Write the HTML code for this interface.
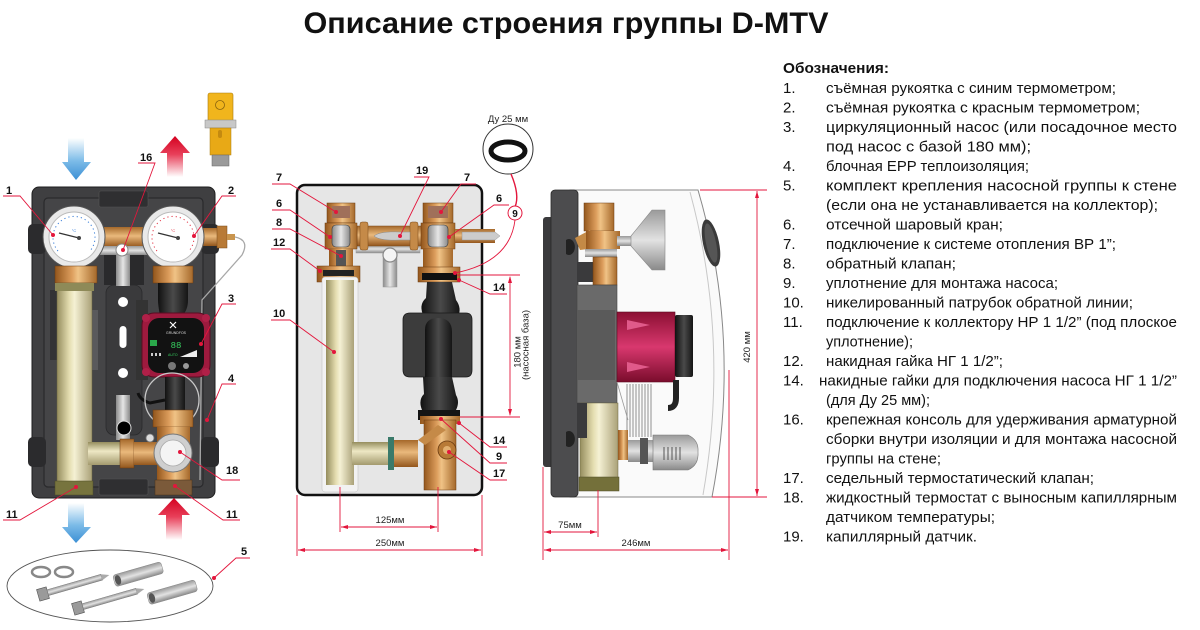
<!DOCTYPE html>
<html><head><meta charset="utf-8"><style>
html,body{margin:0;padding:0;background:#fff;}
svg{display:block;}
.lb{font-family:"Liberation Sans",sans-serif;font-weight:bold;font-size:11px;fill:#111;}
.dm{font-family:"Liberation Sans",sans-serif;font-size:9.5px;fill:#222;}
.lg{font-family:"Liberation Sans","Noto Sans CJK SC",sans-serif;font-size:15px;fill:#111;}
.rl{stroke:#e3163c;stroke-width:0.9;fill:none;}
.rd{fill:#e3163c;}
</style></head><body>
<svg width="1200" height="630" viewBox="0 0 1200 630" xmlns="http://www.w3.org/2000/svg">
<defs>
 <linearGradient id="blueA" x1="0" y1="0" x2="0" y2="1"><stop offset="0" stop-color="#fff"/><stop offset="0.55" stop-color="#7cbbe8"/><stop offset="1" stop-color="#3b8fd4"/></linearGradient>
 <linearGradient id="redA" x1="0" y1="1" x2="0" y2="0"><stop offset="0" stop-color="#fff"/><stop offset="0.55" stop-color="#e8405a"/><stop offset="1" stop-color="#d4001f"/></linearGradient>
 <linearGradient id="nickel" x1="0" x2="1"><stop offset="0" stop-color="#958d5e"/><stop offset="0.35" stop-color="#e4ddb0"/><stop offset="0.5" stop-color="#f5f1d4"/><stop offset="1" stop-color="#aaa178"/></linearGradient>
 <linearGradient id="nickelH" x1="0" y1="0" x2="0" y2="1"><stop offset="0" stop-color="#958d5e"/><stop offset="0.4" stop-color="#eee8c4"/><stop offset="1" stop-color="#a39a6e"/></linearGradient>
 <linearGradient id="brass" x1="0" x2="1"><stop offset="0" stop-color="#93561c"/><stop offset="0.4" stop-color="#dc9d5c"/><stop offset="0.55" stop-color="#f0c386"/><stop offset="1" stop-color="#a5682a"/></linearGradient>
 <linearGradient id="brassH" x1="0" y1="0" x2="0" y2="1"><stop offset="0" stop-color="#a5682a"/><stop offset="0.45" stop-color="#eab97c"/><stop offset="1" stop-color="#93561c"/></linearGradient>
 <linearGradient id="blk" x1="0" x2="1"><stop offset="0" stop-color="#111"/><stop offset="0.5" stop-color="#4a4a4a"/><stop offset="1" stop-color="#151515"/></linearGradient>
 <linearGradient id="redM" x1="0" y1="0" x2="0" y2="1"><stop offset="0" stop-color="#8c0f33"/><stop offset="0.5" stop-color="#d8386e"/><stop offset="1" stop-color="#7a0c2c"/></linearGradient>
 <linearGradient id="gryV" x1="0" y1="0" x2="0" y2="1"><stop offset="0" stop-color="#9a9a9a"/><stop offset="0.5" stop-color="#e2e2e2"/><stop offset="1" stop-color="#8a8a8a"/></linearGradient>
 <linearGradient id="gry" x1="0" x2="1"><stop offset="0" stop-color="#8a8a8a"/><stop offset="0.5" stop-color="#e6e6e6"/><stop offset="1" stop-color="#8a8a8a"/></linearGradient>
</defs>

<!-- TITLE -->
<text x="566" y="33" text-anchor="middle" textLength="525" lengthAdjust="spacingAndGlyphs" style="font-family:'Liberation Sans',sans-serif;font-weight:bold;font-size:30px;fill:#111;">Описание строения группы D-MTV</text>

<!-- ================= LEFT DRAWING ================= -->
<path d="M68,138 H84 V162 H91 L76,180 L62,162 H68 Z" fill="url(#blueA)"/>
<path d="M167,177 V153 H160 L175,136 L190,153 H183 V177 Z" fill="url(#redA)"/>
<rect x="208" y="93" width="25" height="32" rx="2" fill="#f1b51c" stroke="#a87a10" stroke-width="0.6"/>
<circle cx="220" cy="105" r="4.5" fill="none" stroke="#8a6410" stroke-width="0.8"/>
<rect x="205" y="120" width="31" height="8" fill="#c8c8c8" stroke="#888" stroke-width="0.5"/>
<rect x="210" y="128" width="21" height="27" fill="#e8a916" stroke="#a87a10" stroke-width="0.5"/>
<rect x="218" y="130" width="4" height="8" rx="2" fill="#c48a10"/>
<rect x="212" y="155" width="17" height="11" fill="#9a9a9a" stroke="#666" stroke-width="0.5"/>

<rect x="32" y="187" width="183" height="311" rx="7" fill="#3f3f41" stroke="#1e1e1e" stroke-width="1"/>
<rect x="44" y="198" width="159" height="289" rx="4" fill="#454547" stroke="#2a2a2c" stroke-width="1.2"/>
<rect x="99" y="191" width="49" height="16" rx="2" fill="#2f2f31" stroke="#555" stroke-width="0.6"/>
<rect x="99" y="479" width="49" height="16" rx="2" fill="#2f2f31" stroke="#555" stroke-width="0.6"/>
<rect x="28" y="224" width="18" height="30" rx="5" fill="#2b2b2d"/>
<rect x="201" y="224" width="18" height="30" rx="5" fill="#2b2b2d"/>
<rect x="28" y="437" width="18" height="30" rx="5" fill="#2b2b2d"/>
<rect x="201" y="437" width="18" height="30" rx="5" fill="#2b2b2d"/>
<rect x="50" y="290" width="10" height="70" fill="#333335"/>
<rect x="84" y="310" width="14" height="60" fill="#5a5a5c"/>
<rect x="106" y="285" width="36" height="150" rx="8" fill="#3a3a3c" stroke="#2a2a2c" stroke-width="0.8"/>
<rect x="136" y="300" width="12" height="80" fill="#333"/>
<rect x="104" y="255" width="40" height="30" fill="#2a2a2c"/>
<rect x="116" y="254" width="14" height="32" fill="url(#gry)"/>
<rect x="116" y="395" width="14" height="45" fill="url(#gry)"/>
<circle cx="123" cy="302" r="5" fill="#fff"/>
<rect x="119.5" y="326" width="7" height="22" rx="3.5" fill="#fff"/>
<circle cx="123" cy="373" r="5" fill="#fff"/>
<circle cx="124" cy="428" r="7" fill="#000" stroke="#ddd" stroke-width="1"/>

<rect x="96" y="227" width="60" height="20" fill="url(#brassH)"/>
<rect x="195" y="228" width="22" height="18" fill="url(#brassH)"/>
<rect x="217" y="226" width="10" height="22" fill="#b87a36" stroke="#7a4a1a" stroke-width="0.5"/>
<rect x="227" y="234" width="8" height="6" fill="#c9954e"/>
<rect x="100" y="246" width="50" height="9" fill="url(#gryV)"/>
<circle cx="122" cy="250" r="6" fill="#fff" stroke="#888" stroke-width="1"/>
<circle cx="74" cy="237" r="31" fill="#e9e9e9" stroke="#555" stroke-width="1"/>
<circle cx="74" cy="237" r="25" fill="#fff" stroke="#bbb" stroke-width="1"/>
<path d="M58,251 A21,21 0 1,1 90,251" fill="none" stroke="#3a7fd8" stroke-width="1" stroke-dasharray="1.2 3"/>
<text x="74" y="232" text-anchor="middle" style="font-family:'Liberation Sans';font-size:4px;fill:#3a7fd8">°C</text>
<line x1="59" y1="233" x2="79" y2="238" stroke="#333" stroke-width="1.4"/>
<circle cx="79" cy="238" r="2" fill="#444"/>
<circle cx="173" cy="237" r="31" fill="#e9e9e9" stroke="#555" stroke-width="1"/>
<circle cx="173" cy="237" r="25" fill="#fff" stroke="#bbb" stroke-width="1"/>
<path d="M157,251 A21,21 0 1,1 189,251" fill="none" stroke="#e33a4a" stroke-width="1" stroke-dasharray="1.2 3"/>
<text x="173" y="232" text-anchor="middle" style="font-family:'Liberation Sans';font-size:4px;fill:#e33a4a">°C</text>
<line x1="158" y1="233" x2="178" y2="238" stroke="#333" stroke-width="1.4"/>
<circle cx="178" cy="238" r="2" fill="#444"/>
<rect x="55" y="266" width="42" height="17" fill="url(#brass)" stroke="#6a3a10" stroke-width="0.5"/>
<rect x="153" y="266" width="40" height="17" fill="url(#brass)" stroke="#6a3a10" stroke-width="0.5"/>
<rect x="57" y="283" width="35" height="200" fill="url(#nickel)" stroke="#6d6640" stroke-width="0.5"/>
<rect x="55" y="283" width="39" height="8" fill="#8e8a58"/>
<rect x="55" y="481" width="38" height="14" fill="#77743e" stroke="#4e4c26" stroke-width="0.5"/>
<path d="M158,283 H188 V300 Q188,310 182,316 H160 Q158,305 158,300 Z" fill="url(#blk)"/>
<path d="M235,237 Q250,240 242,255 L202,300 L200,480" fill="none" stroke="#a8a8a8" stroke-width="1.3"/>
<rect x="142" y="313" width="68" height="64" rx="12" fill="#9e1a3e" stroke="#5a0c22" stroke-width="1"/>
<circle cx="146" cy="318" r="4" fill="#b02048"/><circle cx="206" cy="318" r="4" fill="#b02048"/>
<circle cx="146" cy="372" r="4" fill="#b02048"/><circle cx="206" cy="372" r="4" fill="#b02048"/>
<rect x="148" y="318" width="56" height="55" rx="11" fill="#121212"/>
<path d="M170,322 l6,6 m0,-6 l-6,6" stroke="#fff" stroke-width="1.2"/>
<text x="176" y="334" text-anchor="middle" style="font-family:'Liberation Sans';font-size:3.5px;fill:#ddd">GRUNDFOS</text>
<rect x="150" y="340" width="7" height="6" fill="#2aa84a"/>
<text x="176" y="348" text-anchor="middle" style="font-family:'Liberation Mono';font-size:9px;fill:#37d060">88</text>
<rect x="151" y="353" width="2" height="3" fill="#ccc"/><rect x="155" y="353" width="2" height="3" fill="#ccc"/><rect x="159" y="353" width="2" height="3" fill="#ccc"/>
<text x="168" y="356" style="font-family:'Liberation Sans';font-size:3.5px;fill:#37d060">AUTO</text>
<path d="M180,357 L197,350 V357 Z" fill="#eee"/>
<circle cx="172" cy="366" r="4" fill="#777"/><circle cx="186" cy="366" r="3" fill="#999"/>
<rect x="165" y="377" width="20" height="33" fill="url(#blk)"/>
<path d="M138,393 Q140,400 150,403 L165,400" fill="none" stroke="#111" stroke-width="3"/>
<circle cx="172" cy="400" r="27" fill="none" stroke="#c8c8c8" stroke-width="1.3"/>
<rect x="153" y="410" width="40" height="17" fill="url(#brass)" stroke="#6a3a10" stroke-width="0.5"/>
<rect x="157" y="427" width="33" height="53" fill="url(#brass)"/>
<rect x="88" y="442" width="35" height="23" fill="url(#nickelH)"/>
<rect x="120" y="439" width="14" height="29" fill="url(#brassH)" stroke="#6a3a10" stroke-width="0.5"/>
<rect x="134" y="442" width="24" height="23" fill="url(#brassH)"/>
<circle cx="150" cy="438" r="4" fill="#ddd" stroke="#777" stroke-width="0.8"/>
<circle cx="173" cy="453" r="19" fill="#cfcfcf" stroke="#777" stroke-width="1"/>
<circle cx="173" cy="453" r="13" fill="#f4f4f4" stroke="#aaa" stroke-width="0.8"/>
<rect x="155" y="480" width="37" height="15" fill="#7b5a3a" stroke="#4a3018" stroke-width="0.5"/>

<text class="lb" x="6" y="194">1</text>
<polyline class="rl" points="3,196 20,196 53,235"/><circle class="rd" cx="53" cy="235" r="2"/>
<text class="lb" x="140" y="161">16</text>
<polyline class="rl" points="138,163 155,163 123,250"/><circle class="rd" cx="123" cy="250" r="2"/>
<text class="lb" x="228" y="194">2</text>
<polyline class="rl" points="236,196 222,196 194,236"/><circle class="rd" cx="194" cy="236" r="2"/>
<text class="lb" x="228" y="302">3</text>
<polyline class="rl" points="236,304 222,304 201,344"/><circle class="rd" cx="201" cy="344" r="2"/>
<text class="lb" x="228" y="382">4</text>
<polyline class="rl" points="236,384 222,384 207,420"/><circle class="rd" cx="207" cy="420" r="2"/>
<text class="lb" x="226" y="474">18</text>
<polyline class="rl" points="240,480 222,480 180,452"/><circle class="rd" cx="180" cy="452" r="2"/>
<text class="lb" x="6" y="518">11</text>
<polyline class="rl" points="3,520 20,520 76,487"/><circle class="rd" cx="76" cy="487" r="2"/>
<text class="lb" x="226" y="518">11</text>
<polyline class="rl" points="240,520 223,520 175,486"/><circle class="rd" cx="175" cy="486" r="2"/>

<path d="M68,503 H84 V527 H91 L76,543 L62,527 H68 Z" fill="url(#blueA)"/>
<path d="M166,540 V515 H158 L174,498 L190,515 H182 V540 Z" fill="url(#redA)"/>

<ellipse cx="110" cy="586" rx="103" ry="36" fill="none" stroke="#555" stroke-width="0.9"/>
<ellipse cx="41" cy="572" rx="9" ry="5" fill="none" stroke="#888" stroke-width="2.5"/>
<ellipse cx="64" cy="572" rx="9" ry="5" fill="none" stroke="#888" stroke-width="2.5"/>
<g transform="rotate(-16 43 594)"><rect x="38" y="588" width="10" height="12" fill="#9a9a9a" stroke="#555" stroke-width="0.6"/><rect x="48" y="591" width="56" height="6" fill="url(#gryV)" stroke="#777" stroke-width="0.5"/><path d="M104,591 L112,594 L104,597 Z" fill="#aaa"/></g>
<g transform="rotate(-16 78 608)"><rect x="73" y="602" width="10" height="12" fill="#9a9a9a" stroke="#555" stroke-width="0.6"/><rect x="83" y="605" width="56" height="6" fill="url(#gryV)" stroke="#777" stroke-width="0.5"/><path d="M139,605 L147,608 L139,611 Z" fill="#aaa"/></g>
<g transform="rotate(-16 118 580)"><rect x="114" y="574" width="50" height="12" rx="3" fill="url(#gryV)" stroke="#888" stroke-width="0.5"/><ellipse cx="118" cy="580" rx="3" ry="5" fill="#555"/></g>
<g transform="rotate(-16 152 598)"><rect x="148" y="592" width="50" height="12" rx="3" fill="url(#gryV)" stroke="#888" stroke-width="0.5"/><ellipse cx="152" cy="598" rx="3" ry="5" fill="#555"/></g>
<text class="lb" x="241" y="555">5</text>
<polyline class="rl" points="250,558 236,558 214,578"/><circle class="rd" cx="214" cy="578" r="2"/>

<!-- ================= MIDDLE DRAWING ================= -->
<rect x="297" y="185" width="185" height="310" rx="8" fill="#e6e6e6" stroke="#111" stroke-width="2.5"/>
<rect x="356" y="245" width="64" height="8" fill="url(#gryV)" stroke="#999" stroke-width="0.5"/>
<rect x="383" y="258" width="14" height="29" fill="url(#gry)" stroke="#999" stroke-width="0.5"/>
<circle cx="390" cy="255" r="7" fill="#f4f4f4" stroke="#888" stroke-width="1.2"/>
<rect x="357" y="226" width="66" height="20" fill="url(#brassH)" stroke="#7a4a1a" stroke-width="0.5"/>
<rect x="360" y="222" width="8" height="28" rx="2" fill="#c58a48" stroke="#7a4a1a" stroke-width="0.5"/>
<rect x="410" y="222" width="8" height="28" rx="2" fill="#c58a48" stroke="#7a4a1a" stroke-width="0.5"/>
<path d="M374,236 Q380,231 400,232 H410 V240 H400 Q380,241 374,236 Z" fill="#ccc" stroke="#888" stroke-width="0.5"/>
<rect x="327" y="203" width="28" height="20" fill="url(#brass)" stroke="#6a3a10" stroke-width="0.5"/>
<rect x="332" y="206" width="18" height="12" fill="#a0705a"/>
<rect x="325" y="223" width="32" height="26" fill="url(#brass)" stroke="#6a3a10" stroke-width="0.5"/>
<rect x="332" y="225" width="18" height="22" rx="4" fill="url(#gry)" stroke="#333" stroke-width="0.6"/>
<rect x="329" y="249" width="24" height="18" fill="url(#brass)"/>
<rect x="336" y="250" width="10" height="17" fill="#555"/>
<rect x="317" y="266" width="43" height="16" fill="url(#brass)" stroke="#6a3a10" stroke-width="0.5"/>
<rect x="323" y="270" width="31" height="6" fill="#222"/>
<rect x="322" y="277" width="36" height="215" rx="3" fill="#f2f2f2" stroke="#bbb" stroke-width="0.5"/>
<rect x="326" y="280" width="28" height="205" fill="url(#nickel)"/>
<rect x="352" y="442" width="66" height="23" fill="url(#nickelH)"/>
<rect x="388" y="437" width="6" height="33" fill="#3a7a6a"/>
<rect x="394" y="440" width="24" height="27" fill="url(#brassH)"/>
<rect x="423" y="203" width="30" height="20" fill="url(#brass)" stroke="#6a3a10" stroke-width="0.5"/>
<rect x="428" y="206" width="20" height="12" fill="#a0705a"/>
<rect x="421" y="223" width="34" height="26" fill="url(#brass)" stroke="#6a3a10" stroke-width="0.5"/>
<rect x="428" y="225" width="20" height="22" rx="4" fill="url(#gry)" stroke="#333" stroke-width="0.6"/>
<rect x="455" y="229" width="40" height="14" fill="url(#brassH)"/>
<path d="M462,232 H495 L500,236 L495,240 H462 Z" fill="#ccc" stroke="#888" stroke-width="0.4"/>
<rect x="423" y="249" width="30" height="22" fill="url(#brass)"/>
<rect x="418" y="267" width="42" height="15" fill="url(#brass)" stroke="#6a3a10" stroke-width="0.5"/>
<rect x="422" y="273" width="35" height="7" fill="#111"/>
<path d="M427,282 H452 L456,300 Q462,308 458,317 H424 Q418,305 426,298 Z" fill="url(#blk)"/>
<path d="M410,313 H466 Q472,313 472,320 V370 Q472,377 466,377 H410 Q403,377 403,370 V320 Q403,313 410,313 Z" fill="#3c3c3c" stroke="#1a1a1a" stroke-width="0.8"/>
<path d="M425,330 Q425,318 438,318 Q452,318 452,332 V377 H425 Z" fill="url(#blk)"/>
<path d="M423,377 H452 L456,395 Q460,402 456,410 H422 Q418,400 424,394 Z" fill="url(#blk)"/>
<rect x="418" y="410" width="42" height="10" fill="#151515"/>
<rect x="420" y="416" width="40" height="8" fill="url(#brass)"/>
<rect x="424" y="420" width="32" height="70" fill="url(#brass)" stroke="#6a3a10" stroke-width="0.5"/>
<path d="M418,440 L438,425 L446,430 L425,445 Z" fill="#c58a48"/>
<circle cx="447" cy="450" r="9" fill="#b87a36" stroke="#6a3a10" stroke-width="0.8"/>
<circle cx="447" cy="450" r="4" fill="#e2b070"/>
<text class="dm" x="508" y="122" text-anchor="middle" style="font-size:9.5px">Ду 25 мм</text>
<circle cx="508" cy="149" r="25" fill="#fff" stroke="#333" stroke-width="1"/>
<ellipse cx="508" cy="151" rx="17" ry="9" fill="none" stroke="#111" stroke-width="5"/>
<path d="M511,174 Q520,195 515,207" class="rl" style="stroke-width:1.4"/>
<circle cx="515" cy="213" r="7" fill="#fff" stroke="#e3163c" stroke-width="1"/>
<text class="lb" x="515" y="217" text-anchor="middle" style="font-size:10px">9</text>
<path d="M515,220 Q510,262 455,273" class="rl"/>
<circle class="rd" cx="455" cy="273" r="2"/>
<text class="lb" x="276" y="181">7</text>
<polyline class="rl" points="272,184 290,184 336,212"/><circle class="rd" cx="336" cy="212" r="2"/>
<text class="lb" x="276" y="207">6</text>
<polyline class="rl" points="272,210 290,210 330,237"/><circle class="rd" cx="330" cy="237" r="2"/>
<text class="lb" x="276" y="226">8</text>
<polyline class="rl" points="272,229 290,229 341,256"/><circle class="rd" cx="341" cy="256" r="2"/>
<text class="lb" x="273" y="246">12</text>
<polyline class="rl" points="271,249 290,249 320,271"/><circle class="rd" cx="320" cy="271" r="2"/>
<text class="lb" x="273" y="317">10</text>
<polyline class="rl" points="271,320 290,320 334,352"/><circle class="rd" cx="334" cy="352" r="2"/>
<text class="lb" x="416" y="174">19</text>
<polyline class="rl" points="414,177 429,177 400,236"/><circle class="rd" cx="400" cy="236" r="2"/>
<text class="lb" x="464" y="181">7</text>
<polyline class="rl" points="476,184 461,184 441,212"/><circle class="rd" cx="441" cy="212" r="2"/>
<text class="lb" x="496" y="202">6</text>
<polyline class="rl" points="509,205 494,205 449,237"/><circle class="rd" cx="449" cy="237" r="2"/>
<text class="lb" x="493" y="291">14</text>
<polyline class="rl" points="507,294 490,294 459,280"/><circle class="rd" cx="459" cy="280" r="2"/>
<text class="lb" x="493" y="444">14</text>
<polyline class="rl" points="507,447 490,447 459,423"/><circle class="rd" cx="459" cy="423" r="2"/>
<text class="lb" x="496" y="460">9</text>
<polyline class="rl" points="507,463 490,463 441,419"/><circle class="rd" cx="441" cy="419" r="2"/>
<text class="lb" x="493" y="477">17</text>
<polyline class="rl" points="507,480 490,480 449,452"/><circle class="rd" cx="449" cy="452" r="2"/>
<line class="rl" x1="457" y1="275" x2="520" y2="275"/>
<line class="rl" x1="460" y1="417" x2="520" y2="417"/>
<line class="rl" x1="510" y1="277" x2="510" y2="415"/>
<path class="rd" d="M510,276 L508,283 L512,283 Z M510,416 L508,409 L512,409 Z"/>
<text class="dm" transform="translate(520.5 352) rotate(-90)" text-anchor="middle">180 мм</text>
<text class="dm" transform="translate(528.5 345) rotate(-90)" text-anchor="middle">(насосная база)</text>
<line class="rl" x1="340" y1="487" x2="340" y2="532"/>
<line class="rl" x1="438" y1="487" x2="438" y2="532"/>
<line class="rl" x1="341" y1="527" x2="437" y2="527"/>
<path class="rd" d="M341,527 L348,525 L348,529 Z M437,527 L430,525 L430,529 Z"/>
<text class="dm" x="390" y="523" text-anchor="middle">125мм</text>
<line class="rl" x1="297" y1="495" x2="297" y2="556"/>
<line class="rl" x1="482" y1="495" x2="482" y2="556"/>
<line class="rl" x1="298" y1="550" x2="481" y2="550"/>
<path class="rd" d="M298,550 L305,548 L305,552 Z M481,550 L474,548 L474,552 Z"/>
<text class="dm" x="390" y="546" text-anchor="middle">250мм</text>

<!-- ================= RIGHT DRAWING ================= -->
<path d="M570,190 H698 Q742,340 712,497 H570 Z" fill="#fafafa" stroke="#888" stroke-width="1"/>
<path d="M690,192 Q730,340 703,495" fill="none" stroke="#c8c8c8" stroke-width="1"/>
<ellipse cx="711" cy="243" rx="8" ry="24" fill="#3a3a3a" transform="rotate(-12 711 243)"/>
<ellipse cx="711" cy="243" rx="5" ry="20" fill="#555" transform="rotate(-12 711 243)"/>
<rect x="543" y="217" width="12" height="250" rx="3" fill="#3a3a3c"/>
<rect x="551" y="190" width="27" height="307" rx="4" fill="#4c4c4e" stroke="#2a2a2a" stroke-width="0.8"/>
<path d="M566,240 a6,8 0 1,1 0,14" fill="#222"/>
<path d="M566,432 a6,8 0 1,1 0,14" fill="#222"/>
<rect x="577" y="262" width="18" height="20" fill="#3a3a3c"/>
<rect x="584" y="203" width="30" height="28" fill="url(#brass)" stroke="#6a3a10" stroke-width="0.5"/>
<path d="M575,238 L590,230 L596,248 L580,250 Z" fill="#c48a46"/>
<rect x="586" y="231" width="34" height="18" fill="url(#brass)"/>
<rect x="585" y="249" width="32" height="8" fill="url(#gryV)"/>
<rect x="593" y="257" width="24" height="28" fill="url(#brass)" stroke="#6a3a10" stroke-width="0.5"/>
<rect x="617" y="236" width="14" height="10" fill="url(#gryV)"/>
<path d="M631,236 L652,210 H665 V270 H652 L631,246 Z" fill="url(#gryV)" stroke="#888" stroke-width="0.6"/>
<rect x="577" y="285" width="40" height="118" fill="#6a6a6a" stroke="#444" stroke-width="0.6"/>
<rect x="577" y="310" width="38" height="70" fill="#5a5a5a"/>
<rect x="617" y="312" width="58" height="70" fill="url(#redM)" stroke="#5a0a20" stroke-width="0.6"/>
<path d="M627,320 L650,325 L627,330 Z M627,362 L650,367 L627,372 Z" fill="#e05a8a"/>
<rect x="675" y="315" width="18" height="62" rx="2" fill="url(#blk)"/>
<path d="M676,380 V398 Q676,408 668,408" fill="none" stroke="#222" stroke-width="6"/>
<g stroke="#9a9a9a" stroke-width="1.1">
<line x1="627" y1="384" x2="627" y2="437"/><line x1="630" y1="384" x2="630" y2="437"/><line x1="633" y1="384" x2="633" y2="437"/><line x1="636" y1="384" x2="636" y2="437"/><line x1="639" y1="384" x2="639" y2="437"/><line x1="642" y1="384" x2="642" y2="437"/><line x1="645" y1="384" x2="645" y2="437"/><line x1="648" y1="384" x2="648" y2="437"/><line x1="651" y1="384" x2="651" y2="437"/>
</g>
<line x1="617" y1="382" x2="628" y2="420" stroke="#999" stroke-width="0.8"/>
<rect x="580" y="403" width="38" height="77" fill="url(#nickel)" stroke="#6d6640" stroke-width="0.5"/>
<rect x="579" y="477" width="40" height="14" fill="#74703a" stroke="#4e4c26" stroke-width="0.5"/>
<rect x="577" y="403" width="10" height="35" fill="#3a3a3c"/>
<rect x="618" y="430" width="10" height="30" fill="url(#brass)"/>
<rect x="628" y="440" width="26" height="22" fill="url(#gryV)"/>
<rect x="640" y="438" width="8" height="26" fill="#555"/>
<path d="M653,435 H688 Q699,440 698,452 Q699,465 688,470 H653 Z" fill="url(#gryV)" stroke="#777" stroke-width="0.6"/>
<g stroke="#555" stroke-width="1"><line x1="664" y1="447" x2="664" y2="460"/><line x1="668" y1="447" x2="668" y2="460"/><line x1="672" y1="447" x2="672" y2="460"/><line x1="676" y1="447" x2="676" y2="460"/><line x1="680" y1="447" x2="680" y2="460"/></g>
<line class="rl" x1="700" y1="190" x2="767" y2="190"/>
<line class="rl" x1="712" y1="497" x2="767" y2="497"/>
<line class="rl" x1="757" y1="191" x2="757" y2="496"/>
<path class="rd" d="M757,191 L755,198 L759,198 Z M757,496 L755,489 L759,489 Z"/>
<text class="dm" transform="translate(750 347) rotate(-90)" text-anchor="middle">420 мм</text>
<line class="rl" x1="543" y1="467" x2="543" y2="560"/>
<line class="rl" x1="598" y1="490" x2="598" y2="537"/>
<line class="rl" x1="729" y1="370" x2="729" y2="560"/>
<line class="rl" x1="544" y1="532" x2="597" y2="532"/>
<path class="rd" d="M544,532 L551,530 L551,534 Z M597,532 L590,530 L590,534 Z"/>
<text class="dm" x="570" y="528" text-anchor="middle">75мм</text>
<line class="rl" x1="544" y1="550" x2="728" y2="550"/>
<path class="rd" d="M544,550 L551,548 L551,552 Z M728,550 L721,548 L721,552 Z"/>
<text class="dm" x="636" y="546" text-anchor="middle">246мм</text>

<!-- ================= LEGEND ================= -->
<text x="783" y="73" textLength="106" lengthAdjust="spacingAndGlyphs" style="font-family:'Liberation Sans',sans-serif;font-weight:bold;font-size:15px;fill:#111;">Обозначения:</text>
<g class="lg">
<text x="783" y="93">1.</text><text x="826" y="93" textLength="290" lengthAdjust="spacingAndGlyphs">съёмная рукоятка с синим термометром;</text>
<text x="783" y="112.5">2.</text><text x="826" y="112.5" textLength="314" lengthAdjust="spacingAndGlyphs">съёмная рукоятка с красным термометром;</text>
<text x="783" y="132">3.</text><text x="826" y="132" textLength="351" lengthAdjust="spacingAndGlyphs">циркуляционный насос (или посадочное место</text>
<text x="826" y="151.5" textLength="205" lengthAdjust="spacingAndGlyphs">под насос с базой 180 мм);</text>
<text x="783" y="171">4.</text><text x="826" y="171" textLength="203" lengthAdjust="spacingAndGlyphs">блочная EPP теплоизоляция;</text>
<text x="783" y="190.5">5.</text><text x="826" y="190.5" textLength="351" lengthAdjust="spacingAndGlyphs">комплект крепления насосной группы к стене</text>
<text x="826" y="210" textLength="332" lengthAdjust="spacingAndGlyphs">(если она не устанавливается на коллектор);</text>
<text x="783" y="229.5">6.</text><text x="826" y="229.5" textLength="177" lengthAdjust="spacingAndGlyphs">отсечной шаровый кран;</text>
<text x="783" y="249">7.</text><text x="826" y="249" textLength="290" lengthAdjust="spacingAndGlyphs">подключение к системе отопления ВР 1”;</text>
<text x="783" y="268.5">8.</text><text x="826" y="268.5" textLength="130" lengthAdjust="spacingAndGlyphs">обратный клапан;</text>
<text x="783" y="288">9.</text><text x="826" y="288" textLength="232" lengthAdjust="spacingAndGlyphs">уплотнение для монтажа насоса;</text>
<text x="783" y="307.5">10.</text><text x="826" y="307.5" textLength="307" lengthAdjust="spacingAndGlyphs">никелированный патрубок обратной линии;</text>
<text x="783" y="327">11.</text><text x="826" y="327" textLength="351" lengthAdjust="spacingAndGlyphs">подключение к коллектору НР 1 1/2” (под плоское</text>
<text x="826" y="346.5" textLength="87" lengthAdjust="spacingAndGlyphs">уплотнение);</text>
<text x="783" y="366">12.</text><text x="826" y="366" textLength="177" lengthAdjust="spacingAndGlyphs">накидная гайка НГ 1 1/2”;</text>
<text x="783" y="385.5">14.</text><text x="819" y="385.5" textLength="358" lengthAdjust="spacingAndGlyphs">накидные гайки для подключения насоса НГ 1 1/2”</text>
<text x="826" y="405" textLength="104" lengthAdjust="spacingAndGlyphs">(для Ду 25 мм);</text>
<text x="783" y="424.5">16.</text><text x="826" y="424.5" textLength="351" lengthAdjust="spacingAndGlyphs">крепежная консоль для удерживания арматурной</text>
<text x="826" y="444" textLength="351" lengthAdjust="spacingAndGlyphs">сборки внутри изоляции и для монтажа насосной</text>
<text x="826" y="463.5" textLength="115" lengthAdjust="spacingAndGlyphs">группы на стене;</text>
<text x="783" y="483">17.</text><text x="826" y="483" textLength="268" lengthAdjust="spacingAndGlyphs">седельный термостатический клапан;</text>
<text x="783" y="502.5">18.</text><text x="826" y="502.5" textLength="351" lengthAdjust="spacingAndGlyphs">жидкостный термостат с выносным капиллярным</text>
<text x="826" y="522" textLength="169" lengthAdjust="spacingAndGlyphs">датчиком температуры;</text>
<text x="783" y="541.5">19.</text><text x="826" y="541.5" textLength="151" lengthAdjust="spacingAndGlyphs">капиллярный датчик.</text>
</g>
</svg>
</body></html>
